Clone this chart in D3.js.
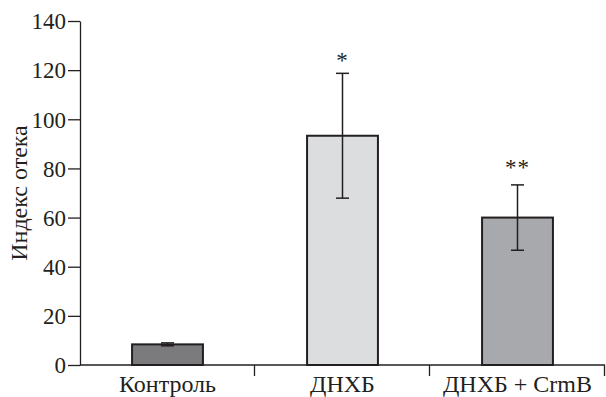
<!DOCTYPE html>
<html>
<head>
<meta charset="utf-8">
<script src="https://cdn.jsdelivr.net/npm/d3@7"></script>
<style>
  html, body { margin: 0; padding: 0; background: #fff; }
  svg { display: block; }
</style>
</head>
<body>
<svg id="chart" width="606" height="397"></svg>
<script>
// Edema index by group
const categories = ["Контроль", "ДНХБ", "ДНХБ + CrmB"];
const means = [8.4, 93.3, 60.0];
const errors = [0.6, 25.4, 13.3];
const marks = ["", "*", "**"];
const fills = ["#7b7b7d", "#dcdddf", "#a8a9ac"];
const yTicks = [0, 20, 40, 60, 80, 100, 120, 140];
const yLabel = "Индекс отека";

const FONT = '"Liberation Serif", "Times New Roman", Times, serif';
const ink = "#231f20";

const svg = d3.select("#chart");
const margin = { left: 80, right: 1, top: 21, bottom: 32 };
const W = 606, H = 397;

const x = d3.scaleBand()
  .domain(categories)
  .range([margin.left, W - margin.right])
  .padding(0);

const y = d3.scaleLinear()
  .domain([0, 140])
  .range([H - margin.bottom, margin.top]);

const barW = x.bandwidth() * 0.405;
const cx = d => x(d) + x.bandwidth() / 2;

// Y axis
const yAxis = svg.append("g")
  .attr("transform", `translate(${margin.left},0)`)
  .call(d3.axisLeft(y).tickValues(yTicks).tickSize(12).tickPadding(2).tickSizeOuter(0));
yAxis.select(".domain").attr("stroke", ink).attr("stroke-width", 1.3);
yAxis.selectAll(".tick line").attr("stroke", ink).attr("stroke-width", 1.3);
yAxis.selectAll(".tick text")
  .attr("font-size", 23)
  .attr("dy", "0.34em")
  .style("font-family", FONT)
  .attr("fill", ink);

// X axis: ticks mark the boundaries between groups
const bounds = categories.map(c => x(c) + x.bandwidth());
const xAxisG = svg.append("g").attr("transform", `translate(0,${y(0)})`);
xAxisG.append("line")
  .attr("x1", x.range()[0]).attr("x2", x.range()[1])
  .attr("stroke", ink).attr("stroke-width", 1.3);
xAxisG.selectAll("line.bt").data(bounds).join("line")
  .attr("class", "bt")
  .attr("x1", d => d - 0.5).attr("x2", d => d - 0.5)
  .attr("y1", 0).attr("y2", 11)
  .attr("stroke", ink).attr("stroke-width", 1.3);
xAxisG.selectAll("text").data(categories).join("text")
  .attr("x", cx)
  .attr("y", 27)
  .attr("text-anchor", "middle")
  .attr("font-size", 24)
  .attr("fill", ink)
  .style("font-family", FONT)
  .text(d => d);

// Bars
svg.selectAll("rect.bar").data(categories).join("rect")
  .attr("class", "bar")
  .attr("x", d => x(d) + (x.bandwidth() - barW) / 2)
  .attr("y", (d, i) => y(means[i]))
  .attr("width", barW)
  .attr("height", (d, i) => y(0) - y(means[i]))
  .attr("fill", (d, i) => fills[i])
  .attr("stroke", ink)
  .attr("stroke-width", 2);

// Error bars
const capW = 13;
const eg = svg.selectAll("g.err").data(categories).join("g").attr("class", "err");
eg.append("line")
  .attr("x1", cx).attr("x2", cx)
  .attr("y1", (d, i) => y(means[i] + errors[i])).attr("y2", (d, i) => y(means[i] - errors[i]))
  .attr("stroke", ink).attr("stroke-width", 1.5);
[1, -1].forEach(s => {
  eg.append("line")
    .attr("x1", d => cx(d) - capW / 2)
    .attr("x2", d => cx(d) + capW / 2)
    .attr("y1", (d, i) => y(means[i] + s * errors[i]))
    .attr("y2", (d, i) => y(means[i] + s * errors[i]))
    .attr("stroke", ink).attr("stroke-width", 1.5);
});

// Significance marks above the upper caps
const markLift = [0, 5, 10];
svg.selectAll("text.sig").data(categories).join("text")
  .attr("class", "sig")
  .attr("x", cx)
  .attr("y", (d, i) => y(means[i] + errors[i]) - markLift[i])
  .attr("text-anchor", "middle")
  .attr("font-size", 23)
  .attr("fill", ink)
  .attr("letter-spacing", 1)
  .style("font-family", FONT)
  .text((d, i) => marks[i]);

// Y label
svg.append("text")
  .attr("transform", `translate(27,${(y(0) + y(140)) / 2}) rotate(-90)`)
  .attr("text-anchor", "middle")
  .attr("font-size", 24)
  .attr("fill", ink)
  .style("font-family", FONT)
  .text(yLabel);
</script>
</body>
</html>
